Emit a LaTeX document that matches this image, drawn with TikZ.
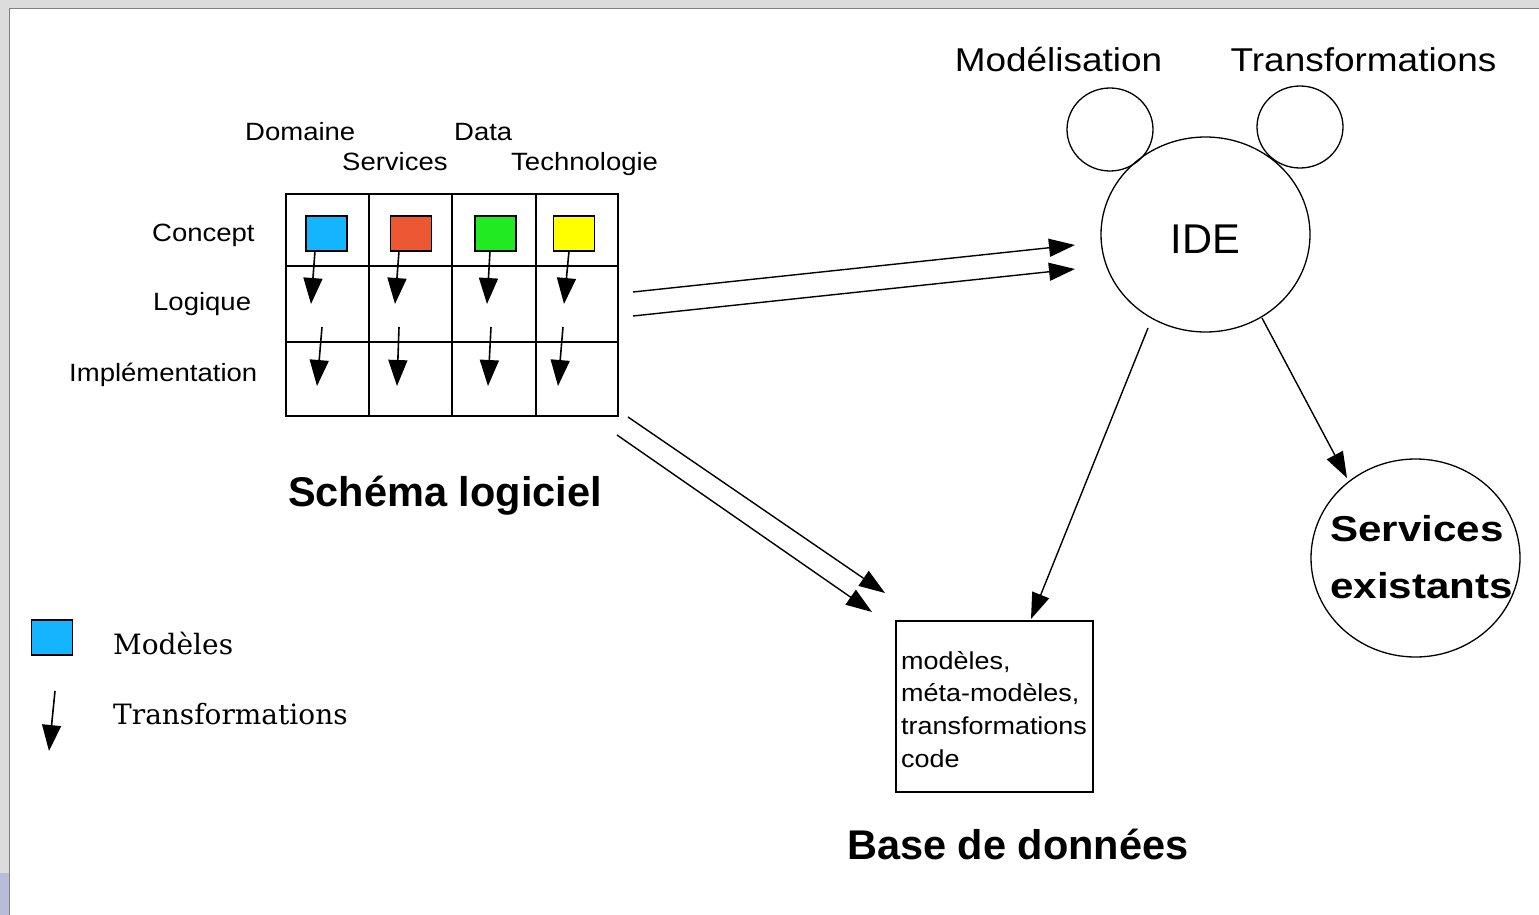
\documentclass[tikz,border=0pt]{standalone}
\usepackage{fontspec}
\setmainfont{Liberation Sans}
\newfontfamily\labfont[FakeStretch=1.1]{Liberation Sans}
\newfontfamily\hdrfont[FakeStretch=1.12]{Liberation Sans}
\newfontfamily\svcfont[FakeStretch=1.17]{Liberation Sans}
\newfontfamily\legfont{DejaVu Serif}
\usetikzlibrary{arrows.meta,shapes.geometric}
\definecolor{bggray}{HTML}{DCDCDC}
\definecolor{edgegray}{HTML}{808080}
\definecolor{lav}{HTML}{B8BCD8}
\definecolor{mblue}{RGB}{20,180,255}
\definecolor{mred}{RGB}{236,88,52}
\definecolor{mgreen}{RGB}{34,234,34}
\definecolor{myellow}{RGB}{255,255,0}
\tikzset{
  gridline/.style={line width=1.8pt},
  model/.style={draw, line width=1.5pt, minimum width=41pt, minimum height=35pt, inner sep=0pt},
  trans/.style={line width=1.6pt, -{Triangle[length=26pt,width=19pt]}},
  conn/.style={line width=1.4pt, -{Triangle[length=26pt,width=18pt]}},
  lab/.style={anchor=base west, inner sep=0pt, font=\labfont\fontsize{25}{30}\selectfont},
  hdr/.style={anchor=base, inner sep=0pt, font=\hdrfont\fontsize{33}{40}\selectfont},
  title/.style={anchor=base west, inner sep=0pt, font=\fontsize{41.5}{48}\selectfont\bfseries},
  leg/.style={anchor=base west, inner sep=0pt, font=\legfont\fontsize{28}{34}\selectfont},
  circ/.style={draw, ellipse, line width=1.3pt, inner sep=0pt}
}
\begin{document}
\begin{tikzpicture}[x=1pt,y=-1pt]
\useasboundingbox (0,0) rectangle (1539,915);
% background / page
\fill[bggray] (0,0) rectangle (1539,915);
\fill[white] (10,9) rectangle (1539,915);
\draw[edgegray, line width=1.5pt] (9.5,915) -- (9.5,8.5) -- (1539,8.5);
\fill[lav] (0,873) rectangle (8.7,915);

% grid
\draw[gridline] (286,194) rectangle (618,416);
\draw[gridline] (369,194) -- (369,416);
\draw[gridline] (452,194) -- (452,416);
\draw[gridline] (536,194) -- (536,416);
\draw[gridline] (286,266) -- (618,266);
\draw[gridline] (286,342) -- (618,342);
\draw[line width=2.6pt] (536,194) rectangle (618,266);

% models
\node[model, fill=mblue]   (m1) at (326.5,233.5) {};
\node[model, fill=mred]    (m2) at (411,233.5) {};
\node[model, fill=mgreen]  (m3) at (495.5,233.5) {};
\node[model, fill=myellow] (m4) at (574,233.5) {};

% transformation arrows
\coordinate (t1a) at (315,251); \coordinate (t1b) at (311,304);
\coordinate (t2a) at (399,251); \coordinate (t2b) at (395,304);
\coordinate (t3a) at (490,251); \coordinate (t3b) at (487,304);
\coordinate (t4a) at (569,251); \coordinate (t4b) at (564,304);
\coordinate (u1a) at (322,327); \coordinate (u1b) at (317,386);
\coordinate (u2a) at (399,327); \coordinate (u2b) at (397,386);
\coordinate (u3a) at (491,327); \coordinate (u3b) at (488,386);
\coordinate (u4a) at (563,327); \coordinate (u4b) at (558,386);
\foreach \i in {1,2,3,4}{
  \draw[trans] (t\i a) -- (t\i b);
  \draw[trans] (u\i a) -- (u\i b);
}

% grid labels
\node[lab] (dom) at (245,141) {Domaine};
\node[lab] (dat) at (454,141) {Data};
\node[lab] (ser) at (342,171) {Services};
\node[lab] (tec) at (511,171) {Technologie};
\node[lab] (con) at (152,241) {Concept};
\node[lab] (log) at (153,310) {Logique};
\node[lab] (imp) at (69,381) {Implémentation};
\node[title] (sch) at (288,506) {Schéma logiciel};

% legend
\node[model, fill=mblue] (lm) at (52,637.5) {};
\node[leg] (lmt) at (113,654) {Modèles};
\coordinate (lta) at (55,691); \coordinate (ltb) at (49,751);
\draw[trans] (lta) -- (ltb);
\node[leg] (ltt) at (113,724) {Transformations};

% IDE cluster
\node[circ, minimum width=86pt, minimum height=83pt] (mod) at (1110,129.5) {};
\node[circ, minimum width=86pt, minimum height=82pt] (tra) at (1300,127) {};
\node[circ, minimum width=209pt, minimum height=195pt] (ide) at (1205.5,234.5) {};
\node[anchor=base, inner sep=0pt, font=\fontsize{41.6}{48}\selectfont] (idet) at (ide.center |- 0,253) {IDE};
\node[hdr] (modt) at (1058.5,72) {Modélisation};
\node[hdr] (trat) at (1363.5,72) {Transformations};

% services existants
\node[circ, minimum width=209pt, minimum height=198pt] (svc) at (1415.5,558) {};
\node[anchor=north west, inner sep=0pt, align=left,
      font=\svcfont\fontsize{36}{57}\selectfont\bfseries] (svct) at (1330,515) {Services\\existants};

% base de donnees
\node[draw, line width=1.5pt, minimum width=197pt, minimum height=171pt, inner sep=0pt] (db) at (994.5,706.5) {};
\node[anchor=north west, inner sep=0pt, align=left,
      font=\labfont\fontsize{24.5}{32.7}\selectfont] (dbt) at (901,651) {modèles,\\méta-modèles,\\transformations\\code};
\node[title] (bdd) at (847,859) {Base de données};

% connectors
\coordinate (g1a) at (633,292); \coordinate (g1b) at (1075,245);
\coordinate (g2a) at (633,316); \coordinate (g2b) at (1075,269);
\draw[conn] (g1a) -- (g1b);
\draw[conn] (g2a) -- (g2b);
\coordinate (h1a) at (628,417); \coordinate (h1b) at (885,593);
\coordinate (h2a) at (617,435); \coordinate (h2b) at (872,612);
\draw[conn] (h1a) -- (h1b);
\draw[conn] (h2a) -- (h2b);
\coordinate (i1a) at (1148,328); \coordinate (i1b) at (1031,619);
\draw[conn] (i1a) -- (i1b);
\coordinate (i2a) at (1262,318); \coordinate (i2b) at (1347,478);
\draw[conn] (i2a) -- (i2b);
\end{tikzpicture}
\end{document}
